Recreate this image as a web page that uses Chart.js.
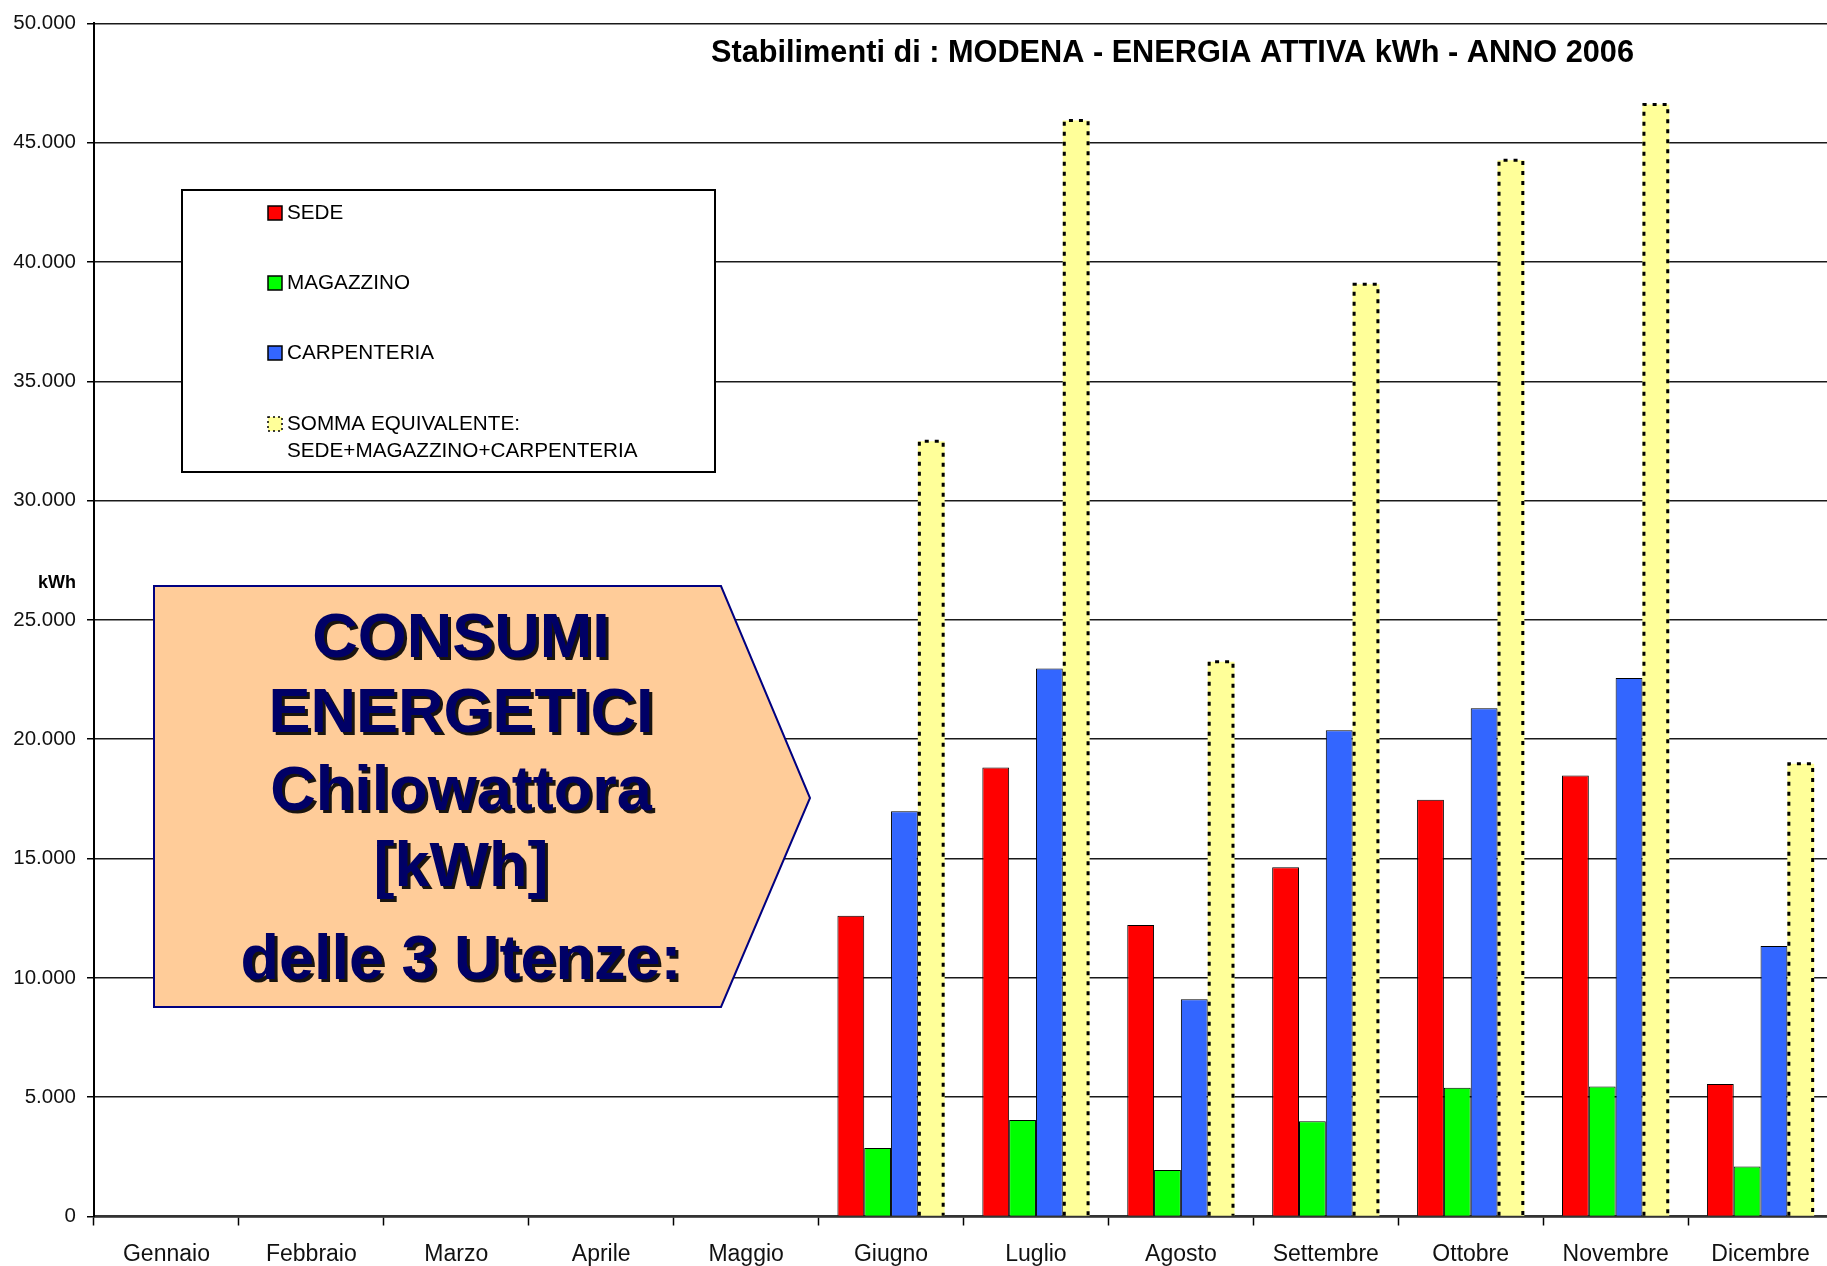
<!DOCTYPE html>
<html>
<head>
<meta charset="utf-8">
<script src="https://cdn.jsdelivr.net/npm/chart.js@4.4.1/dist/chart.umd.min.js"></script>
<style>
  html, body { margin: 0; padding: 0; background: #fff; overflow: hidden; }
  #wrap { width: 1840px; height: 1266px; position: relative; }
</style>
</head>
<body>
<div id="wrap"><canvas id="myChart"></canvas></div>
<script>
// months on the x axis
const months = ['Gennaio', 'Febbraio', 'Marzo', 'Aprile', 'Maggio', 'Giugno',
    'Luglio', 'Agosto', 'Settembre', 'Ottobre', 'Novembre', 'Dicembre'];

// kWh per site (no data before June)
const sede = [null, null, null, null, null, 12600, 18820, 12210, 14640, 17460, 18480, 5550];
const magazzino = [null, null, null, null, null, 2870, 4040, 1950, 3990, 5400, 5450, 2090];
const carpenteria = [null, null, null, null, null, 16980, 22960, 9100, 20380, 21300, 22570, 11330];
const somma = [null, null, null, null, null, 32490, 45930, 23250, 39060, 44260, 46600, 18970];

// legend names (last one on two lines)
const seriesNames = [['SEDE'], ['MAGAZZINO'], ['CARPENTERIA'],
    ['SOMMA EQUIVALENTE:', 'SEDE+MAGAZZINO+CARPENTERIA']];

// y tick labels, italian thousands separator
const yTickLabels = ['0', '5.000', '10.000', '15.000', '20.000', '25.000',
    '30.000', '35.000', '40.000', '45.000', '50.000'];

const chartTitle = 'Stabilimenti di : MODENA - ENERGIA ATTIVA kWh - ANNO 2006';
const calloutLines = ['CONSUMI', 'ENERGETICI', 'Chilowattora', '[kWh]', 'delle 3 Utenze:'];

const FONT = "'Liberation Sans', Arial, sans-serif";
const colors = ['#ff0000', '#00ff00', '#3366ff', '#ffff99'];

// dotted outline for the "somma" bars
const dottedBars = {
    id: 'dottedBars',
    afterDatasetsDraw(chart) {
        const meta = chart.getDatasetMeta(3);
        const ctx = chart.ctx;
        ctx.save();
        ctx.strokeStyle = '#000';
        ctx.lineWidth = 3;
        ctx.setLineDash([4, 6]);
        meta.data.forEach((el, i) => {
            if (somma[i] == null) return;
            const p = el.getProps(['x', 'y', 'base', 'width'], true);
            const l = p.x - p.width / 2 + 1.5;
            const r = p.x + p.width / 2 - 1.5;
            ctx.beginPath();
            ctx.moveTo(l, p.base);
            ctx.lineTo(l, p.y);
            ctx.lineTo(r, p.y);
            ctx.lineTo(r, p.base);
            ctx.stroke();
        });
        ctx.restore();
    }
};

// title, legend box, callout and axis unit
const extras = {
    id: 'extras',
    afterDraw(chart) {
        const ctx = chart.ctx;
        ctx.save();

        // title
        ctx.fillStyle = '#000';
        ctx.font = 'bold 30.7px ' + FONT;
        ctx.textAlign = 'left';
        ctx.textBaseline = 'middle';
        ctx.fillText(chartTitle, 711, 54);

        // unit over the y axis
        ctx.font = 'bold 18px ' + FONT;
        ctx.textAlign = 'right';
        ctx.fillText('kWh', 76, 583);

        // legend box
        ctx.fillStyle = '#fff';
        ctx.fillRect(182, 190, 533, 282);
        ctx.strokeStyle = '#000';
        ctx.lineWidth = 2;
        ctx.strokeRect(182, 190, 533, 282);

        const rowY = [213, 283, 353, 424];
        ctx.font = '20.7px ' + FONT;
        ctx.textAlign = 'left';
        chart.data.datasets.forEach((ds, i) => {
            const y = rowY[i];
            ctx.fillStyle = colors[i];
            ctx.fillRect(268, y - 7, 14, 14);
            ctx.lineWidth = 1.5;
            ctx.strokeStyle = '#000';
            if (i === 3) ctx.setLineDash([2, 3]);
            ctx.strokeRect(268, y - 7, 14, 14);
            ctx.setLineDash([]);
            ctx.fillStyle = '#000';
            seriesNames[i].forEach((t, k) => ctx.fillText(t, 287, y + k * 27));
        });

        // callout arrow
        ctx.beginPath();
        ctx.moveTo(154, 586);
        ctx.lineTo(721, 586);
        ctx.lineTo(810, 798);
        ctx.lineTo(721, 1007);
        ctx.lineTo(154, 1007);
        ctx.closePath();
        ctx.fillStyle = '#ffcc99';
        ctx.fill();
        ctx.strokeStyle = '#000080';
        ctx.lineWidth = 2;
        ctx.stroke();

        const lineY = [640, 715, 793, 869, 962];
        ctx.font = 'bold 63px ' + FONT;
        ctx.textAlign = 'center';
        ctx.fillStyle = '#000066';
        ctx.shadowColor = 'rgba(0,0,0,0.9)';
        ctx.shadowOffsetX = 3;
        ctx.shadowOffsetY = 3;
        ctx.shadowBlur = 0;
        calloutLines.forEach((t, i) => ctx.fillText(t, 461, lineY[i]));
        ctx.restore();
    }
};

const chartContext = document.getElementById('myChart').getContext('2d');

const chart = new Chart(chartContext, {
    type: 'bar',
    data: {
        labels: months,
        datasets: [sede, magazzino, carpenteria, somma].map((d, i) => ({
            label: seriesNames[i].join(' '),
            data: d,
            backgroundColor: colors[i],
            borderColor: '#000',
            borderWidth: i === 3 ? 0 : 1,
            borderSkipped: 'bottom',
            categoryPercentage: 0.74,
            barPercentage: 1
        }))
    },
    options: {
        responsive: true,
        maintainAspectRatio: false,
        animation: false,
        layout: { padding: { top: 18.5, right: 7, left: 0, bottom: 0 } },
        plugins: {
            legend: { display: false },
            tooltip: { enabled: false }
        },
        scales: {
            x: {
                grid: {
                    display: true,
                    drawOnChartArea: false,
                    offset: true,
                    tickLength: 9,
                    tickColor: '#000',
                    tickWidth: 1.5
                },
                border: { color: '#333', width: 2.5 },
                ticks: {
                    color: '#111',
                    font: { family: FONT, size: 23 },
                    maxRotation: 0,
                    autoSkip: false,
                    padding: 15.5
                },
                afterFit(scale) { scale.height = 49.5; }
            },
            y: {
                min: 0,
                max: 50000,
                ticks: {
                    stepSize: 5000,
                    color: '#111',
                    font: { family: FONT, size: 20.5 },
                    padding: 11,
                    callback: (v, i) => yTickLabels[i]
                },
                grid: {
                    color: '#1a1a1a',
                    lineWidth: 1.5,
                    tickLength: 7,
                    tickColor: '#000'
                },
                border: { color: '#000', width: 2 },
                afterFit(scale) { scale.width = 94; }
            }
        }
    },
    plugins: [dottedBars, extras]
});
</script>
</body>
</html>
